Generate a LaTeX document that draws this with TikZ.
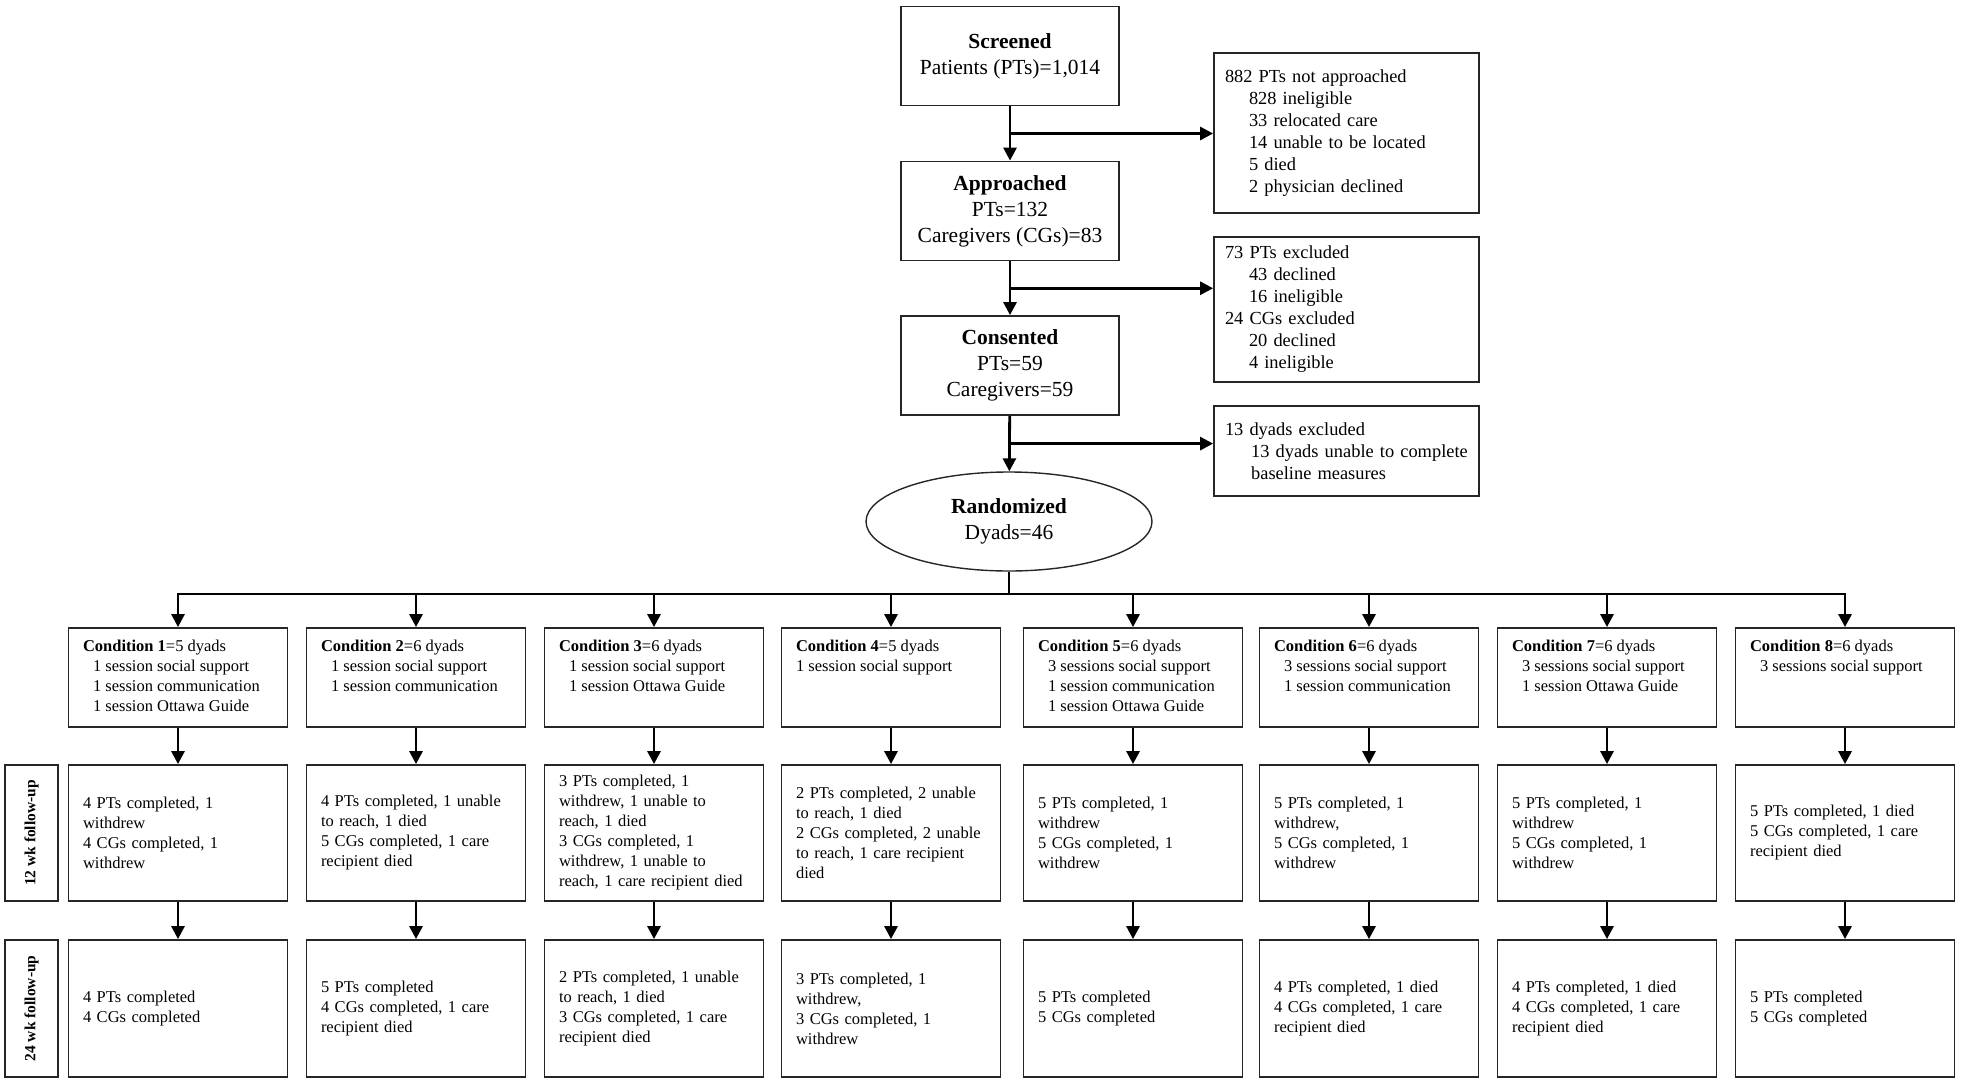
\documentclass[tikz,border=0pt]{standalone}
\usepackage{fontspec}
\setmainfont{Liberation Serif}
\usetikzlibrary{arrows.meta, positioning, calc, shapes.geometric}
\newcommand{\condtext}[1]{\parbox[c][75pt][t]{190pt}{\raggedright #1}}
\newcommand{\indsp}[1][24pt]{\hspace*{#1}}

\begin{document}
\begin{tikzpicture}[x=1pt, y=-1pt,
    box/.style={rectangle, draw=black!85, line width=1.8pt, minimum width=218pt,
                minimum height=99pt, align=center, font=\fontsize{21.5}{26}\selectfont},
    exbox/.style={rectangle, draw=black!85, line width=1.8pt, text width=243pt,
                inner xsep=11pt, align=left, font=\fontsize{18.4}{22}\selectfont},
    condbox/.style={rectangle, draw=black!85, line width=1.8pt, minimum width=219pt,
                minimum height=99pt, inner sep=0pt, font=\fontsize{16.5}{20}\selectfont},
    fupbox/.style={rectangle, draw=black!85, line width=1.8pt, text width=190pt,
                inner xsep=14.5pt, minimum height=136pt, align=left, font=\fontsize{16.5}{20}\selectfont},
    sidebox/.style={rectangle, draw=black!85, line width=1.8pt, rotate=90, minimum width=136pt,
                minimum height=53pt, inner sep=0pt, font=\bfseries\fontsize{15.5}{18}\selectfont},
    arr/.style={-{Triangle[length=13pt, width=13pt]}, line width=2.8pt}]

    \useasboundingbox (0,0) rectangle (1961,1081);

    % enrolment
    \node[box] (scr) at (1010, 56) {\textbf{Screened}\\Patients (PTs)=1,014};
    \node[box] (appr) at (1010, 211) {\textbf{Approached}\\PTs=132\\Caregivers (CGs)=83};
    \node[box] (cons) at (1010, 365.5) {\textbf{Consented}\\PTs=59\\Caregivers=59};
    \node[ellipse, draw=black!85, line width=1.4pt, minimum width=286pt, minimum height=99pt,
          inner sep=0pt, align=center, font=\fontsize{21.5}{26}\selectfont]
          (rand) at (1009, 521.5) {\textbf{Randomized}\\Dyads=46};

    \node[exbox, minimum height=160pt] (notappr) at (1346.5, 133)
        {882 PTs not approached\\\indsp 828 ineligible\\\indsp 33 relocated care\\
         \indsp 14 unable to be located\\\indsp 5 died\\\indsp 2 physician declined};
    \node[exbox, minimum height=145pt] (excl) at (1346.5, 309.5)
        {73 PTs excluded\\\indsp 43 declined\\\indsp 16 ineligible\\
         24 CGs excluded\\\indsp 20 declined\\\indsp 4 ineligible};
    \node[exbox, minimum height=90pt] (dyex) at (1346.5, 451)
        {13 dyads excluded\\\indsp[20pt] 13 dyads unable to complete\\\indsp[20pt] baseline measures};

    \coordinate (j1) at ($(scr.south)!0.5!(appr.north)$);
    \coordinate (j2) at ($(appr.south)!0.5!(cons.north)$);
    \coordinate (j3) at ($(cons.south)!0.5!(rand.north)$);
    \draw[arr] (scr) -- (appr);
    \draw[arr] (appr) -- (cons);
    \draw[arr] (cons) -- (rand);
    \draw[arr] (j1) -- (j1 -| notappr.west);
    \draw[arr] (j2) -- (j2 -| excl.west);
    \draw[arr] (j3) -- (j3 -| dyex.west);

    % conditions
    \node[condbox] (c1) at (178, 677.5) {\condtext{\textbf{Condition 1}=5 dyads\\\indsp[10pt]1 session social support\\\indsp[10pt]1 session communication\\\indsp[10pt]1 session Ottawa Guide}};
    \node[condbox] (c2) at (416, 677.5) {\condtext{\textbf{Condition 2}=6 dyads\\\indsp[10pt]1 session social support\\\indsp[10pt]1 session communication}};
    \node[condbox] (c3) at (654, 677.5) {\condtext{\textbf{Condition 3}=6 dyads\\\indsp[10pt]1 session social support\\\indsp[10pt]1 session Ottawa Guide}};
    \node[condbox] (c4) at (891, 677.5) {\condtext{\textbf{Condition 4}=5 dyads\\1 session social support}};
    \node[condbox] (c5) at (1133, 677.5) {\condtext{\textbf{Condition 5}=6 dyads\\\indsp[10pt]3 sessions social support\\\indsp[10pt]1 session communication\\\indsp[10pt]1 session Ottawa Guide}};
    \node[condbox] (c6) at (1369, 677.5) {\condtext{\textbf{Condition 6}=6 dyads\\\indsp[10pt]3 sessions social support\\\indsp[10pt]1 session communication}};
    \node[condbox] (c7) at (1607, 677.5) {\condtext{\textbf{Condition 7}=6 dyads\\\indsp[10pt]3 sessions social support\\\indsp[10pt]1 session Ottawa Guide}};
    \node[condbox] (c8) at (1845, 677.5) {\condtext{\textbf{Condition 8}=6 dyads\\\indsp[10pt]3 sessions social support}};

    \coordinate (bus) at (1009, 594);
    \draw[line width=2.8pt] (rand.south) -- (bus);
    \draw[arr] (bus) -| (c1.north);
    \draw[arr] (bus) -| (c2.north);
    \draw[arr] (bus) -| (c3.north);
    \draw[arr] (bus) -| (c4.north);
    \draw[arr] (bus) -| (c5.north);
    \draw[arr] (bus) -| (c6.north);
    \draw[arr] (bus) -| (c7.north);
    \draw[arr] (bus) -| (c8.north);

    % 12 wk follow-up
    \node[sidebox] (lab12) at (31.5, 833) {12 wk follow-up};
    \node[fupbox] (fa1) at (178, 833) {4 PTs completed, 1\\withdrew\\4 CGs completed, 1\\withdrew};
    \node[fupbox] (fa2) at (416, 833) {4 PTs completed, 1 unable\\to reach, 1 died\\5 CGs completed, 1 care\\recipient died};
    \node[fupbox] (fa3) at (654, 833) {3 PTs completed, 1\\withdrew, 1 unable to\\reach, 1 died\\3 CGs completed, 1\\withdrew, 1 unable to\\reach, 1 care recipient died};
    \node[fupbox] (fa4) at (891, 833) {2 PTs completed, 2 unable\\to reach, 1 died\\2 CGs completed, 2 unable\\to reach, 1 care recipient\\died};
    \node[fupbox] (fa5) at (1133, 833) {5 PTs completed, 1\\withdrew\\5 CGs completed, 1\\withdrew};
    \node[fupbox] (fa6) at (1369, 833) {5 PTs completed, 1\\withdrew,\\5 CGs completed, 1\\withdrew};
    \node[fupbox] (fa7) at (1607, 833) {5 PTs completed, 1\\withdrew\\5 CGs completed, 1\\withdrew};
    \node[fupbox] (fa8) at (1845, 833) {5 PTs completed, 1 died\\5 CGs completed, 1 care\\recipient died};

    % 24 wk follow-up
    \node[sidebox, minimum width=137pt] (lab24) at (31.5, 1008.5) {24 wk follow-up};
    \node[fupbox, minimum height=137pt] (fb1) at (178, 1008.5) {4 PTs completed\\4 CGs completed};
    \node[fupbox, minimum height=137pt] (fb2) at (416, 1008.5) {5 PTs completed\\4 CGs completed, 1 care\\recipient died};
    \node[fupbox, minimum height=137pt] (fb3) at (654, 1008.5) {2 PTs completed, 1 unable\\to reach, 1 died\\3 CGs completed, 1 care\\recipient died};
    \node[fupbox, minimum height=137pt] (fb4) at (891, 1008.5) {3 PTs completed, 1\\withdrew,\\3 CGs completed, 1\\withdrew};
    \node[fupbox, minimum height=137pt] (fb5) at (1133, 1008.5) {5 PTs completed\\5 CGs completed};
    \node[fupbox, minimum height=137pt] (fb6) at (1369, 1008.5) {4 PTs completed, 1 died\\4 CGs completed, 1 care\\recipient died};
    \node[fupbox, minimum height=137pt] (fb7) at (1607, 1008.5) {4 PTs completed, 1 died\\4 CGs completed, 1 care\\recipient died};
    \node[fupbox, minimum height=137pt] (fb8) at (1845, 1008.5) {5 PTs completed\\5 CGs completed};

    \draw[arr] (c1) -- (fa1);
    \draw[arr] (c2) -- (fa2);
    \draw[arr] (c3) -- (fa3);
    \draw[arr] (c4) -- (fa4);
    \draw[arr] (c5) -- (fa5);
    \draw[arr] (c6) -- (fa6);
    \draw[arr] (c7) -- (fa7);
    \draw[arr] (c8) -- (fa8);
    \draw[arr] (fa1) -- (fb1);
    \draw[arr] (fa2) -- (fb2);
    \draw[arr] (fa3) -- (fb3);
    \draw[arr] (fa4) -- (fb4);
    \draw[arr] (fa5) -- (fb5);
    \draw[arr] (fa6) -- (fb6);
    \draw[arr] (fa7) -- (fb7);
    \draw[arr] (fa8) -- (fb8);
\end{tikzpicture}
\end{document}
